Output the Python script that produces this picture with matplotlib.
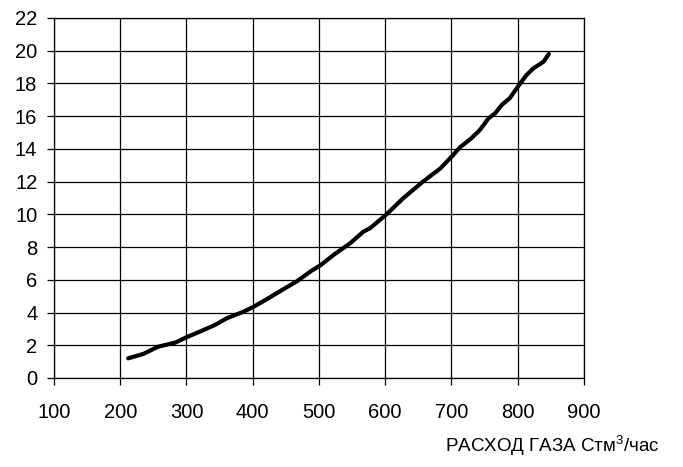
import matplotlib
matplotlib.use("Agg")
import matplotlib.pyplot as plt

# points (gas flow vs value)
gas_flow = [212, 235, 257, 283, 300, 320, 343, 361, 386, 400, 421, 446, 466, 489,
            503, 522, 547, 567, 577, 602, 627, 657, 683, 702, 713, 730, 743, 756,
            766, 776, 788, 802, 813, 823, 839, 847]
values = [1.2, 1.47, 1.91, 2.16, 2.49, 2.83, 3.24, 3.65, 4.05, 4.32, 4.81, 5.42, 5.89, 6.56,
          6.91, 7.52, 8.23, 8.94, 9.15, 10.0, 10.98, 12.0, 12.8, 13.6, 14.1, 14.65, 15.16, 15.87,
          16.18, 16.69, 17.1, 17.9, 18.5, 18.9, 19.33, 19.8]
x_ticks = list(range(100, 1000, 100))
y_ticks = list(range(0, 24, 2))
x_label = r"РАСХОД ГАЗА Стм$^3$/час"

plt.rcParams['font.family'] = ['Liberation Sans', 'DejaVu Sans']
plt.rcParams['mathtext.fontset'] = 'custom'
plt.rcParams['mathtext.rm'] = 'Liberation Sans'
plt.rcParams['mathtext.it'] = 'Liberation Sans'

fig = plt.figure(figsize=(6.83, 4.67), dpi=100)
ax = fig.add_axes([0.079, 0.1906, 0.776, 0.7709])

ax.plot(gas_flow, values, color='black', linewidth=3, solid_capstyle='round')

ax.set_xlim(100, 900)
ax.set_ylim(0, 22)
ax.set_xticks(x_ticks)
ax.set_yticks(y_ticks)
ax.grid(True, color='black', linewidth=0.9)
ax.set_axisbelow(True)
for s in ax.spines.values():
    s.set_color('black')
    s.set_linewidth(0.9)
ax.tick_params(axis='x', direction='out', length=5, width=0.9, pad=13, labelsize=14.5)
ax.tick_params(axis='y', direction='out', length=5, width=0.9, pad=7, labelsize=14.5)

fig.text(0.966, 1 - 446 / 467, x_label, ha='right', va='center', fontsize=13.5)

fig.savefig("out.png", dpi=100)
